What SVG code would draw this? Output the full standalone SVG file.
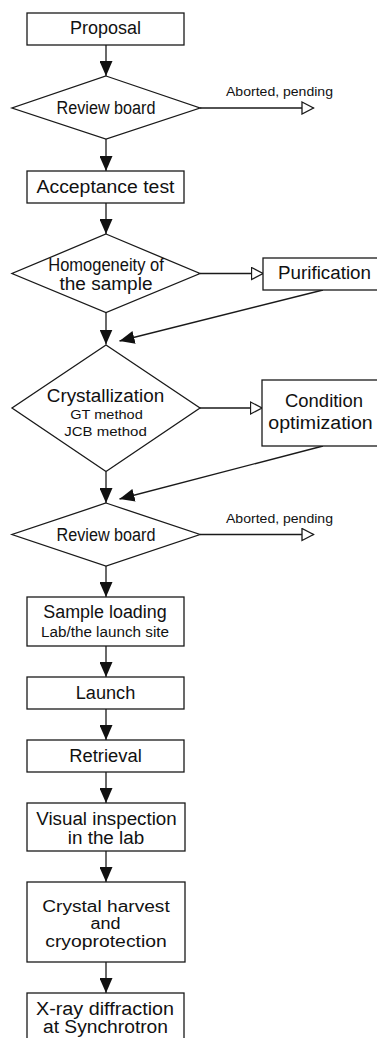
<svg xmlns="http://www.w3.org/2000/svg" width="377" height="1038" viewBox="0 0 377 1038">
<style>
.n{fill:#fff;stroke:#1a1a1a;stroke-width:1.3}
.t{font-family:"Liberation Sans",Arial,sans-serif;font-size:18px;fill:#111;text-anchor:middle}
.m{font-size:16px}
.s{font-family:"Liberation Sans",Arial,sans-serif;font-size:13px;fill:#111;text-anchor:middle}
.c line{stroke:#1a1a1a;stroke-width:1.3}
</style>
<defs>
<marker id="ah" markerWidth="15" markerHeight="13" refX="15" refY="6.5" orient="auto" markerUnits="userSpaceOnUse"><path d="M0,0 L15,6.5 L0,13 Z" fill="#111"/></marker>
<marker id="oh" markerWidth="14" markerHeight="14" refX="12.5" refY="7" orient="auto" markerUnits="userSpaceOnUse"><path d="M1,1 L12.5,7 L1,13 Z" fill="#fff" stroke="#1a1a1a" stroke-width="1.3"/></marker>
</defs>
<rect width="377" height="1038" fill="#fff"/>
<g id="connectors" class="c">
<line x1="106" y1="45" x2="106" y2="76" marker-end="url(#ah)"/>
<line x1="200" y1="108" x2="313.5" y2="108" marker-end="url(#oh)"/>
<line x1="106" y1="139" x2="106" y2="171" marker-end="url(#ah)"/>
<line x1="106" y1="203" x2="106" y2="234" marker-end="url(#ah)"/>
<line x1="200" y1="273.5" x2="263" y2="273.5" marker-end="url(#oh)"/>
<line x1="323" y1="290" x2="119.5" y2="341" marker-end="url(#ah)"/>
<line x1="106" y1="312.5" x2="106" y2="344.5" marker-end="url(#ah)"/>
<line x1="200" y1="408" x2="262" y2="408" marker-end="url(#oh)"/>
<line x1="323" y1="446" x2="119.5" y2="499" marker-end="url(#ah)"/>
<line x1="106" y1="471.5" x2="106" y2="503" marker-end="url(#ah)"/>
<line x1="200" y1="534.5" x2="313.5" y2="534.5" marker-end="url(#oh)"/>
<line x1="106" y1="566" x2="106" y2="597" marker-end="url(#ah)"/>
<line x1="106" y1="646" x2="106" y2="677" marker-end="url(#ah)"/>
<line x1="106" y1="709" x2="106" y2="740" marker-end="url(#ah)"/>
<line x1="106" y1="772" x2="106" y2="803" marker-end="url(#ah)"/>
<line x1="106" y1="851" x2="106" y2="882" marker-end="url(#ah)"/>
<line x1="106" y1="962" x2="106" y2="993" marker-end="url(#ah)"/>
</g>
<g id="lbl-abort1"><text class="s" x="279.5" y="96" textLength="107" lengthAdjust="spacingAndGlyphs">Aborted, pending</text></g>
<g id="lbl-abort2"><text class="s" x="279.5" y="523" textLength="107" lengthAdjust="spacingAndGlyphs">Aborted, pending</text></g>
<g id="proposal"><rect class="n" x="27" y="13" width="157" height="32"/><text class="t" x="105.5" y="34" textLength="71" lengthAdjust="spacingAndGlyphs">Proposal</text></g>
<g id="review1"><polygon class="n" points="106,76 200,108 106,139 12,108"/><text class="t" x="106" y="114" textLength="99" lengthAdjust="spacingAndGlyphs">Review board</text></g>
<g id="acceptance"><rect class="n" x="27" y="171" width="157" height="32"/><text class="t" x="105.5" y="192.5" textLength="138" lengthAdjust="spacingAndGlyphs">Acceptance test</text></g>
<g id="homogeneity"><polygon class="n" points="106,234 200,273.5 106,312.5 12,273.5"/><text class="t" x="106" y="270.5" textLength="115.5" lengthAdjust="spacingAndGlyphs">Homogeneity of</text><text class="t" x="106" y="290" textLength="93" lengthAdjust="spacingAndGlyphs">the sample</text></g>
<g id="purification"><rect class="n" x="263" y="258" width="130" height="32"/><text class="t" x="324.5" y="279" textLength="93" lengthAdjust="spacingAndGlyphs">Purification</text></g>
<g id="crystallization"><polygon class="n" points="106,345 200,408 106,471.5 12,408"/><text class="t" x="105.5" y="402" textLength="117.5" lengthAdjust="spacingAndGlyphs">Crystallization</text><text class="s" x="106.5" y="419" textLength="72.5" lengthAdjust="spacingAndGlyphs">GT method</text><text class="s" x="105.5" y="436" textLength="82.5" lengthAdjust="spacingAndGlyphs">JCB method</text></g>
<g id="condition"><rect class="n" x="262" y="380" width="130" height="66"/><text class="t" x="324" y="406.5" textLength="78" lengthAdjust="spacingAndGlyphs">Condition</text><text class="t" x="320.5" y="429" textLength="104.5" lengthAdjust="spacingAndGlyphs">optimization</text></g>
<g id="review2"><polygon class="n" points="106,503 200,534.5 106,566 12,534.5"/><text class="t" x="106" y="541" textLength="99" lengthAdjust="spacingAndGlyphs">Review board</text></g>
<g id="loading"><rect class="n" x="27" y="597" width="157" height="49"/><text class="t" x="105" y="618" textLength="123.5" lengthAdjust="spacingAndGlyphs">Sample loading</text><text class="s" x="105" y="637" style="font-size:14px" textLength="128" lengthAdjust="spacingAndGlyphs">Lab/the launch site</text></g>
<g id="launch"><rect class="n" x="27" y="677" width="157" height="32"/><text class="t" x="105.5" y="698.5" textLength="59.5" lengthAdjust="spacingAndGlyphs">Launch</text></g>
<g id="retrieval"><rect class="n" x="27" y="740" width="157" height="32"/><text class="t" x="105.5" y="761.5" textLength="72.5" lengthAdjust="spacingAndGlyphs">Retrieval</text></g>
<g id="inspection"><rect class="n" x="27" y="803" width="158" height="48"/><text class="t" x="106.5" y="825" textLength="140.5" lengthAdjust="spacingAndGlyphs">Visual inspection</text><text class="t" x="106" y="843.5" textLength="76.5" lengthAdjust="spacingAndGlyphs">in the lab</text></g>
<g id="harvest"><rect class="n" x="27" y="882" width="158" height="80"/><text class="t m" x="106" y="911.5" textLength="127.5" lengthAdjust="spacingAndGlyphs">Crystal harvest</text><text class="t m" x="105.5" y="929" textLength="30" lengthAdjust="spacingAndGlyphs">and</text><text class="t m" x="106" y="946.5" textLength="121.5" lengthAdjust="spacingAndGlyphs">cryoprotection</text></g>
<g id="xray"><rect class="n" x="27" y="993" width="157" height="60"/><text class="t" x="105" y="1015" textLength="138" lengthAdjust="spacingAndGlyphs">X-ray diffraction</text><text class="t" x="105.5" y="1033" textLength="125" lengthAdjust="spacingAndGlyphs">at Synchrotron</text></g>
</svg>
